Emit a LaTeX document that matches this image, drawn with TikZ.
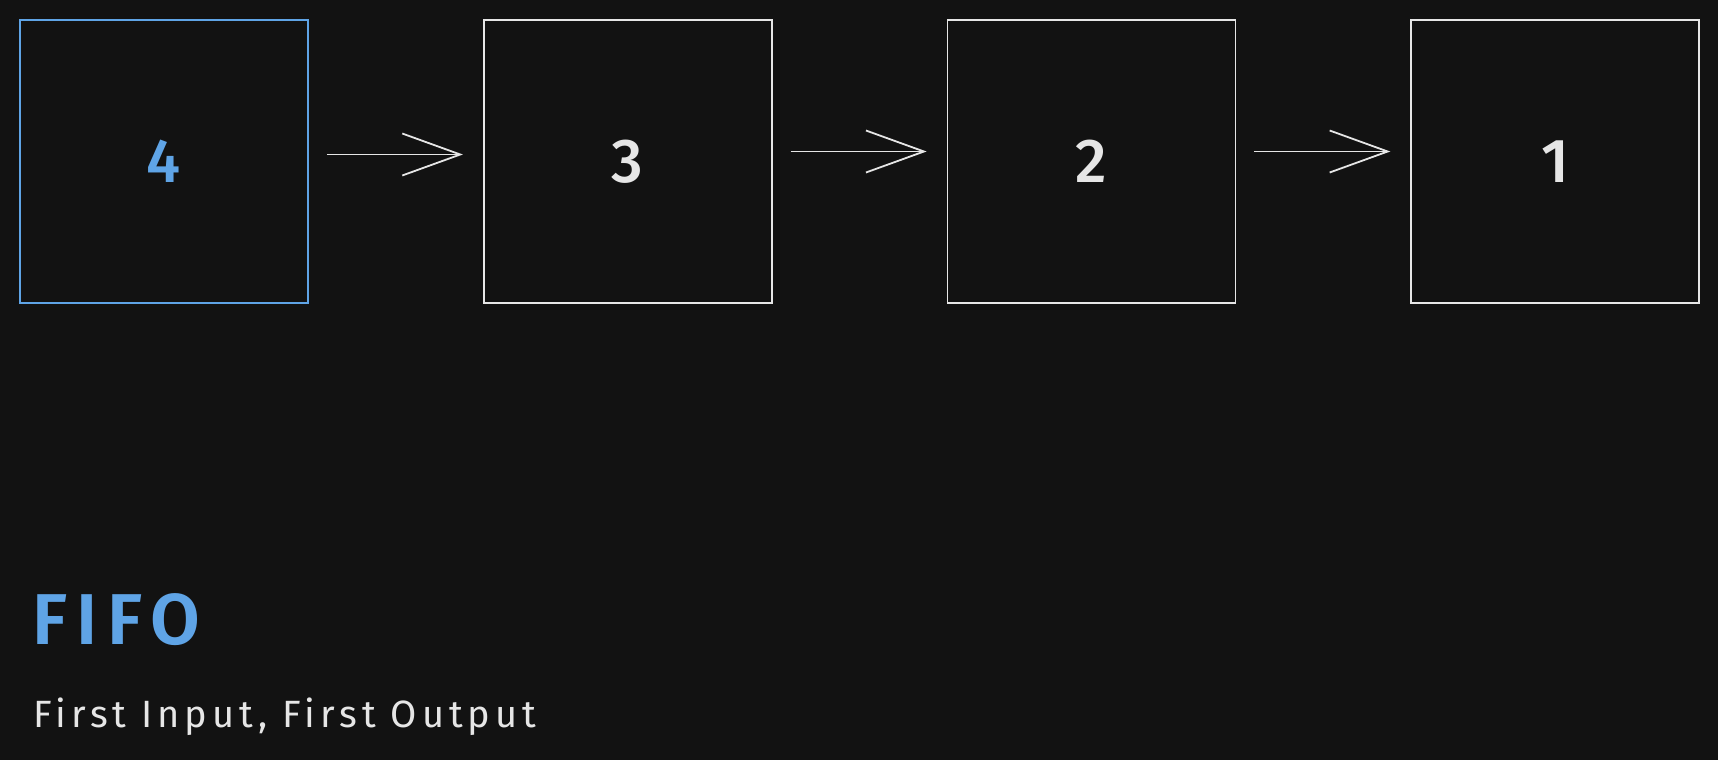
\documentclass[tikz,border=0pt]{standalone}
\usepackage{fontspec}
\setmainfont{Fira Sans}
\newfontfamily\headfont[LetterSpace=13]{Fira Sans SemiBold}
\newfontfamily\subfont[LetterSpace=13]{Fira Sans}
\newfontfamily\digitfont{Fira Sans Medium}
\usetikzlibrary{arrows.meta}
\definecolor{bg}{HTML}{121212}
\definecolor{ink}{HTML}{E6E6E6}
\definecolor{qblue}{HTML}{5FA4E6}
\tikzset{
	cell/.style={draw=ink, line width=1.6pt, minimum width=288pt, minimum height=283pt,
		inner sep=0pt, text=ink, font=\digitfont\fontsize{62}{70}\selectfont},
	link/.style={draw=ink, line width=1.8pt, shorten <=18pt, shorten >=20pt,
		-{Straight Barb[length=58pt, width=42pt, line width=1.8pt]}}
}
\begin{document}
\begin{tikzpicture}[x=1pt, y=-1pt]
	%background
	\fill[bg] (0,0) rectangle (1718,760);
	\useasboundingbox (0,0) rectangle (1718,760);
	
	%the queue
	\def\x{463.7}
	\node[cell, draw=qblue, text=qblue] (q4) at (164,161.5) {4};
	\node[cell] (q3) at (164+\x,161.5) {3};
	\node[cell] (q2) at (164+2*\x,161.5) {2};
	\node[cell] (q1) at (164+3*\x,161.5) {1};
	
	\draw[link] ([yshift=7pt]q4.east) -- ([yshift=7pt]q3.west);
	\draw[link] ([yshift=10pt]q3.east) -- ([yshift=10pt]q2.west);
	\draw[link] ([yshift=10pt]q2.east) -- ([yshift=10pt]q1.west);
	
	%caption
	\node[anchor=base west, inner sep=0pt, text=qblue, font=\headfont\fontsize{72}{80}\selectfont] (title) at (32,644) {FIFO};
	\node[anchor=base west, inner sep=0pt, text=ink, font=\subfont\fontsize{38}{44}\selectfont] (sub) at (33,727) {First Input, First Output};
\end{tikzpicture}
\end{document}
